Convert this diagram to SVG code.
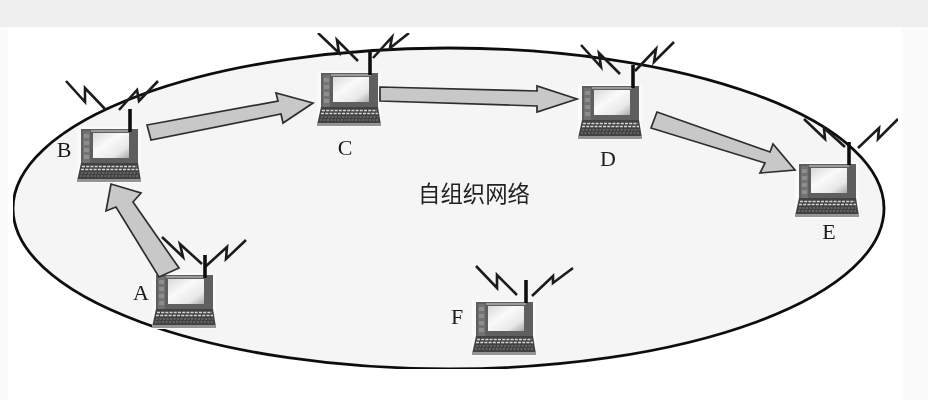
<svg xmlns="http://www.w3.org/2000/svg" xmlns:xlink="http://www.w3.org/1999/xlink" width="928" height="400" viewBox="0 0 928 400">
<style>
.lbl{font-family:"Liberation Serif","Times New Roman",serif;font-size:22px;fill:#1a1a1a;text-anchor:middle}
.cn{font-family:"Noto Sans CJK SC","Liberation Sans",sans-serif;font-size:22.4px;fill:#222;text-anchor:middle}
.bolt{fill:none;stroke:#1c1c1c;stroke-width:2.6;stroke-linejoin:miter}
.ant{fill:none;stroke:#111;stroke-width:3.6}
.arrow{fill:#c8c8c8;stroke:#2e2e2e;stroke-width:1.7;stroke-linejoin:miter}
</style>
<defs>
<linearGradient id="scr" x1="0" y1="0" x2="1" y2="1">
<stop offset="0" stop-color="#d8d8d8"/><stop offset=".4" stop-color="#fafafa"/><stop offset=".75" stop-color="#e8e8e8"/><stop offset="1" stop-color="#a8a8a8"/>
</linearGradient>
<filter id="soft" x="-5%" y="-5%" width="110%" height="110%"><feGaussianBlur stdDeviation="0.6"/></filter>
<filter id="all" x="0" y="0" width="100%" height="100%"><feGaussianBlur stdDeviation="0.4"/></filter>
<g id="laptop" filter="url(#soft)">
<rect x="0" y="0" width="64" height="56" fill="#fafafa"/>
<path d="M4 2H61V38H4Z" fill="#5e5e5e"/>
<rect x="6" y="4" width="7" height="32" fill="#727272"/>
<path d="M7 7h5v4H7zM7 14h5v4H7zM7 21h5v4H7zM7 28h5v4H7z" fill="#8e8e8e"/>
<rect x="14" y="3" width="40" height="2" fill="#9a9a9a"/>
<rect x="16" y="6" width="36" height="25" fill="url(#scr)"/>
<path d="M4 36H61L64 54H0Z" fill="#434343"/>
<path d="M5 39.500H60M4 42.500H61" stroke="#d4d4d4" stroke-width="1.4" stroke-dasharray="3 1.2" fill="none"/>
<path d="M4 46H61M3 49H62" stroke="#858585" stroke-width="1.2" stroke-dasharray="2 1.5" fill="none"/>
<rect x="0" y="52" width="64" height="3" fill="#949494"/>
</g>
</defs>
<rect width="928" height="400" fill="#fbfbfb"/>
<rect width="928" height="27" fill="#efefef"/>
<rect x="8" y="27" width="894" height="373" fill="#fff"/>
<g filter="url(#all)">
<g id="network">
<ellipse cx="448.5" cy="208.5" rx="435.5" ry="160.5" fill="#f5f5f5" stroke="#111" stroke-width="2.8"/>
<text class="cn" x="474" y="202">自组织网络</text>
</g>
<g id="node-A">
<use href="#laptop" x="152" y="273"/>
<path class="bolt" d="M162 237L183 257L180 244L202 264"/>
<path class="bolt" d="M246 240L226 259L227 247L205 267"/>
<path class="ant" d="M205 255V278"/>
<text class="lbl" x="141" y="300">A</text>
</g>
<g id="node-B">
<use href="#laptop" x="77" y="127"/>
<path class="bolt" d="M66 81L85 102L85 88L105 109"/>
<path class="bolt" d="M158 81L139 101L137 90L119 110"/>
<path class="ant" d="M130 109V132"/>
<text class="lbl" x="64" y="157">B</text>
</g>
<g id="node-C">
<use href="#laptop" x="317" y="71"/>
<path class="bolt" d="M318 33L339 53L337 40L358 61"/>
<path class="bolt" d="M409 33L390 48L392 37L373 58"/>
<path class="ant" d="M370 52V75"/>
<text class="lbl" x="345" y="155">C</text>
</g>
<g id="node-D">
<use href="#laptop" x="578" y="84"/>
<path class="bolt" d="M581 45L601 67L599 53L620 74"/>
<path class="bolt" d="M674 42L654 62L656 49L635 71"/>
<path class="ant" d="M633 65V88"/>
<text class="lbl" x="608" y="166">D</text>
</g>
<g id="node-E">
<use href="#laptop" x="795" y="162"/>
<path class="bolt" d="M804 119L825 139L824 128L845 147"/>
<path class="bolt" d="M898 119L878 139L879 128L858 148"/>
<path class="ant" d="M849 142V165"/>
<text class="lbl" x="829" y="239">E</text>
</g>
<g id="node-F">
<use href="#laptop" x="472" y="300"/>
<path class="bolt" d="M476 266L497 288L497 275L517 295"/>
<path class="bolt" d="M573 268L553 283L553 276L532 296"/>
<path class="ant" d="M526 280V303"/>
<text class="lbl" x="457" y="324">F</text>
</g>
<g id="connectors">
<path class="arrow" d="M179 268L159 277L116 207L106 211L111 184L141 193L133 202Z"/>
<path class="arrow" d="M147 125L278 101L276 93L313 103L283 123L281 114L151 140Z"/>
<path class="arrow" d="M380 87L537 91L537 86L577 99L537 112L537 106L380 101Z"/>
<path class="arrow" d="M657 112L770 152L773 144L795 170L760 173L765 163L651 128Z"/>
</g>
</g>
</svg>
